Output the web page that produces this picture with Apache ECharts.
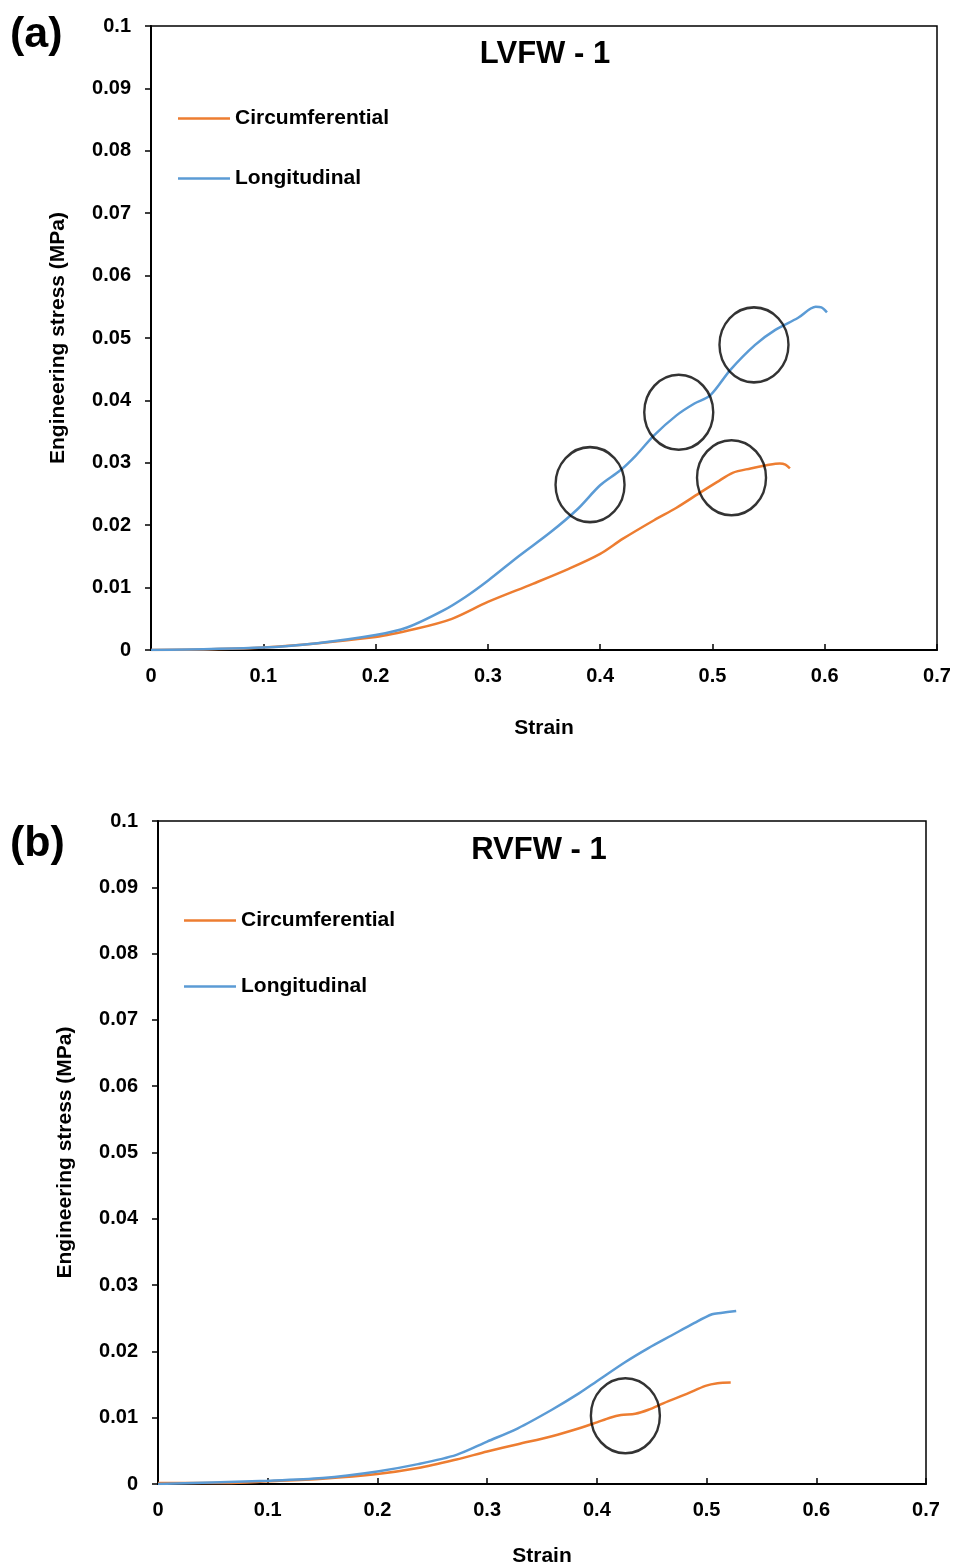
<!DOCTYPE html>
<html><head><meta charset="utf-8">
<script src="https://cdn.jsdelivr.net/npm/echarts@6/dist/echarts.min.js"></script>
<style>html,body{margin:0;padding:0;background:#fff}#c{width:955px;height:1568px}</style>
</head><body><div id="c"></div>
<script>
// ---- Data ----
const seriesNames = ['Circumferential', 'Longitudinal'];
const xTicks = [0, 0.1, 0.2, 0.3, 0.4, 0.5, 0.6, 0.7];
const yTicks = [0, 0.01, 0.02, 0.03, 0.04, 0.05, 0.06, 0.07, 0.08, 0.09, 0.1];

// (a) LVFW - 1
const lvCircStrain = [0, 0.1, 0.2, 0.236, 0.268, 0.3, 0.34, 0.372, 0.4, 0.42, 0.448, 0.468, 0.488, 0.504, 0.518, 0.534, 0.548, 0.56, 0.565, 0.569];
const lvCircStress = [0, 0.0004, 0.0021, 0.0034, 0.005, 0.0077, 0.0106, 0.013, 0.0154, 0.0178, 0.0208, 0.0228, 0.0251, 0.0269, 0.0284, 0.0291, 0.0296, 0.0299, 0.0297, 0.0291];
const lvLongStrain = [0, 0.1, 0.148, 0.2, 0.228, 0.26, 0.28, 0.3, 0.328, 0.356, 0.38, 0.4, 0.418, 0.432, 0.448, 0.468, 0.484, 0.498, 0.516, 0.538, 0.556, 0.576, 0.592, 0.597, 0.602];
const lvLongStress = [0, 0.0004, 0.0011, 0.0024, 0.0036, 0.0063, 0.0085, 0.0111, 0.0151, 0.0189, 0.0226, 0.0264, 0.0288, 0.0312, 0.0344, 0.0376, 0.0395, 0.0408, 0.0449, 0.0489, 0.0513, 0.0532, 0.0550, 0.0549, 0.0541];
const lvMarkStrain = [0.391, 0.47, 0.537, 0.517];
const lvMarkStress = [0.0265, 0.0381, 0.0489, 0.0276];

// (b) RVFW - 1
const rvCircStrain = [0, 0.062, 0.1, 0.15, 0.2, 0.237, 0.272, 0.3, 0.328, 0.359, 0.384, 0.4, 0.412, 0.422, 0.435, 0.447, 0.461, 0.482, 0.499, 0.51, 0.522];
const rvCircStress = [0.00015, 0.00015, 0.0004, 0.0008, 0.0015, 0.0024, 0.0037, 0.0049, 0.006, 0.0072, 0.0084, 0.0093, 0.01, 0.0104, 0.0106, 0.0112, 0.0122, 0.0136, 0.0148, 0.0152, 0.0153];
const rvLongStrain = [0, 0.1, 0.15, 0.2, 0.237, 0.272, 0.3, 0.328, 0.359, 0.384, 0.4, 0.426, 0.447, 0.468, 0.489, 0.505, 0.513, 0.527];
const rvLongStress = [0, 0.0005, 0.0009, 0.0019, 0.003, 0.0044, 0.0064, 0.0084, 0.0112, 0.0137, 0.0155, 0.0184, 0.0205, 0.0224, 0.0243, 0.0256, 0.0258, 0.0261];
const rvMarkStrain = [0.426];
const rvMarkStress = [0.0103];

const zip = (a, b) => a.map((v, i) => [v, b[i]]);

const FONT = 'Liberation Sans, Arial, sans-serif';
const ORANGE = '#ED7D31';
const BLUE = '#5B9BD5';
const tickFmt = v => String(+v.toFixed(3));

function xAxis(gi, nameGap) {
  return {
    gridIndex: gi, type: 'value', min: xTicks[0], max: xTicks[xTicks.length - 1], interval: 0.1,
    name: 'Strain', nameLocation: 'middle', nameGap: nameGap,
    nameTextStyle: { fontFamily: FONT, fontWeight: 'bold', fontSize: 21, color: '#000' },
    axisLine: { show: true, onZero: false, lineStyle: { color: '#000', width: 2 } },
    axisTick: { show: true, inside: true, length: 6, lineStyle: { color: '#000', width: 1.5 } },
    axisLabel: { fontFamily: FONT, fontWeight: 'bold', fontSize: 20, color: '#000', margin: 16, formatter: tickFmt },
    splitLine: { show: false }
  };
}
function yAxis(gi, nameGap) {
  return {
    gridIndex: gi, type: 'value', min: yTicks[0], max: yTicks[yTicks.length - 1], interval: 0.01,
    name: 'Engineering stress (MPa)', nameLocation: 'middle', nameGap: nameGap,
    nameTextStyle: { fontFamily: FONT, fontWeight: 'bold', fontSize: 21, color: '#000' },
    axisLine: { show: true, onZero: false, lineStyle: { color: '#000', width: 2 } },
    axisTick: { show: true, inside: false, length: 6, lineStyle: { color: '#000', width: 1.5 } },
    axisLabel: { fontFamily: FONT, fontWeight: 'bold', fontSize: 20, color: '#000', margin: 20, formatter: tickFmt },
    splitLine: { show: false }
  };
}
function line(name, data, color, gi) {
  return { type: 'line', name: name, xAxisIndex: gi, yAxisIndex: gi, data: data, symbol: 'none',
    smooth: 0.3, lineStyle: { color: color, width: 2.5 }, itemStyle: { color: color }, z: 3 };
}
function marks(data, gi, size) {
  return { type: 'scatter', name: 'marks' + gi, xAxisIndex: gi, yAxisIndex: gi, data: data,
    symbol: 'circle', symbolSize: size, silent: true,
    itemStyle: { color: 'rgba(0,0,0,0)', borderColor: '#000', borderWidth: 2.5 }, z: 5 };
}
function legend(left, top, gap) {
  return { data: seriesNames.map(n => ({ name: n, icon: 'rect' })), orient: 'vertical', left: left, top: top,
    itemGap: gap, itemWidth: 52, itemHeight: 2.5,
    textStyle: { fontFamily: FONT, fontWeight: 'bold', fontSize: 21, color: '#000' },
    selectedMode: false };
}

const chart = echarts.init(document.getElementById('c'), null, { renderer: 'canvas' });
chart.setOption({
  animation: false,
  backgroundColor: '#fff',
  grid: [
    { left: 151, top: 26, width: 786, height: 624, show: true, borderColor: '#000', borderWidth: 1.5, backgroundColor: 'transparent' },
    { left: 158, top: 821, width: 768, height: 667, show: true, borderColor: '#000', borderWidth: 1.5, backgroundColor: 'transparent' }
  ],
  title: [
    { text: 'LVFW - 1', left: 540, top: 34, textAlign: 'center', textStyle: { fontFamily: FONT, fontWeight: 'bold', fontSize: 31, color: '#000' } },
    { text: 'RVFW - 1', left: 534, top: 830, textAlign: 'center', textStyle: { fontFamily: FONT, fontWeight: 'bold', fontSize: 31, color: '#000' } },
    { text: '(a)', left: 5, top: 9, textStyle: { fontFamily: FONT, fontWeight: 'bold', fontSize: 43, color: '#000' } },
    { text: '(b)', left: 5, top: 818, textStyle: { fontFamily: FONT, fontWeight: 'bold', fontSize: 43, color: '#000' } }
  ],
  legend: [legend(173, 103, 39), legend(179, 905, 45)],
  xAxis: [xAxis(0, 68), xAxis(1, 62)],
  yAxis: [yAxis(0, 82), yAxis(1, 82)],
  series: [
    line(seriesNames[0], zip(lvCircStrain, lvCircStress), ORANGE, 0),
    line(seriesNames[1], zip(lvLongStrain, lvLongStress), BLUE, 0),
    marks(zip(lvMarkStrain, lvMarkStress), 0, [69, 75]),
    line(seriesNames[0], zip(rvCircStrain, rvCircStress), ORANGE, 1),
    line(seriesNames[1], zip(rvLongStrain, rvLongStress), BLUE, 1),
    marks(zip(rvMarkStrain, rvMarkStress), 1, [69, 75])
  ]
});
</script></body></html>
